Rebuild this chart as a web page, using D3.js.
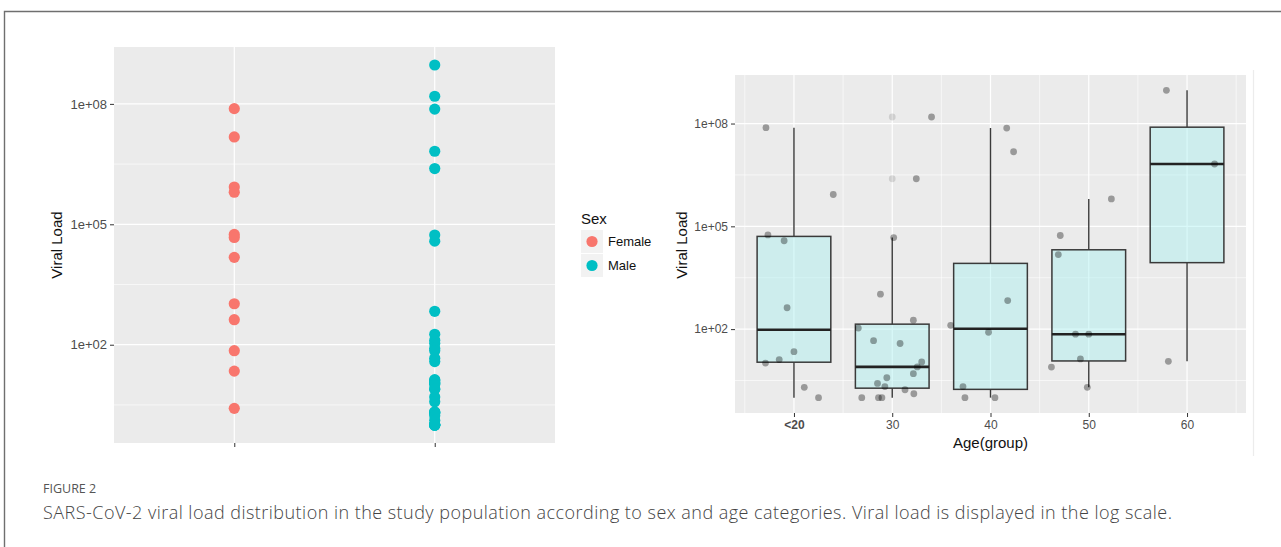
<!DOCTYPE html>
<html>
<head>
<meta charset="utf-8">
<script src="https://cdn.jsdelivr.net/npm/d3@7"></script>
<style>
  body { margin: 0; background: #fff; }
  svg text { font-family: "Liberation Sans", Arial, sans-serif; }
  .cap { font-family: "Open Sans", Lato, sans-serif; }
</style>
</head>
<body>
<svg id="fig" width="1281" height="547"></svg>
<script>
// viral load, by sex
var sexes = ["Female", "Male"];
var femaleLoad = [7.6e7, 1.5e7, 8.5e5, 6.3e5, 5.6e4, 4.7e4, 1.5e4, 1050, 420, 71, 22, 2.6];
var maleLoad = [9.3e8, 1.55e8, 7.4e7, 6.6e6, 2.45e6, 5.4e4, 3.8e4, 680, 182, 129, 107, 81, 71, 46, 38,
  13.5, 12.9, 11.5, 11, 10.2, 7.9, 7.8, 5, 3.8, 2.1, 2.1, 2, 2, 1.7, 1.3, 1, 1, 1, 1, 1, 1];

// right panel, by age group (jitter = offset of each point in category widths)
var ageGroups = ["<20", "30", "40", "50", "60"];
var loadU20 = [7.6e7, 8.5e5, 5.6e4, 3.8e4, 420, 22, 12.9, 10.2, 2, 1];
var jitterU20 = [-0.285, 0.40, -0.265, -0.10, -0.07, 0.0, -0.15, -0.29, 0.105, 0.25];
var load30 = [1.55e8, 2.45e6, 4.7e4, 1050, 182, 107, 46, 38, 11, 7.9, 5, 3.8, 2.6, 2.1, 1.7, 1.3, 1, 1, 1];
var jitter30 = [0.40, 0.245, 0.015, -0.12, 0.215, -0.345, -0.19, 0.08, 0.30, 0.255, 0.215, -0.055, -0.15, -0.075, 0.13, 0.22, -0.31, -0.14, -0.105];
var load40 = [7.4e7, 1.5e7, 680, 129, 81, 2.1, 1, 1];
var jitter40 = [0.165, 0.235, 0.175, -0.405, -0.02, -0.28, -0.26, 0.045];
var load50 = [6.3e5, 5.4e4, 1.5e4, 71, 71, 13.5, 7.8, 2];
var jitter50 = [0.23, -0.29, -0.31, -0.135, 0, -0.085, -0.38, -0.015];
var load60 = [9.3e8, 6.6e6, 11.5];
var jitter60 = [-0.21, 0.28, -0.19];

var yTicks = [1e2, 1e5, 1e8];
var sexColors = ["#F8766D", "#00BFC4"];

var svg = d3.select("#fig");
var ageLoads = [loadU20, load30, load40, load50, load60];
var ageJitter = [jitterU20, jitter30, jitter40, jitter50, jitter60];

// log domain with ggplot's 5% expansion
var allLog = femaleLoad.concat(maleLoad).map(function (v) { return Math.log10(v); });
var lo = d3.min(allLog), hi = d3.max(allLog), pad = (hi - lo) * 0.05;
var yDomain = [Math.pow(10, lo - pad), Math.pow(10, hi + pad)];
var minorTicks = yTicks.map(function (t) { return t / Math.pow(10, 1.5); })
  .concat([yTicks[yTicks.length - 1] * Math.pow(10, 1.5)])
  .filter(function (t) { return t >= yDomain[0] && t <= yDomain[1]; });

function fmt(d) {
  var e = Math.round(Math.log10(d));
  return "1e+" + (e < 10 ? "0" + e : e);
}

// frame around the figure
svg.append("path").attr("d", "M4.5,547V11.5H1281").attr("fill", "none")
  .attr("stroke", "#6f6f6f").attr("stroke-width", 1.4);

function drawPanel(g, x, y, minorX, labelSize) {
  var xr = x.range(), yr = y.range();
  g.append("rect").attr("x", xr[0]).attr("y", yr[1])
    .attr("width", xr[1] - xr[0]).attr("height", yr[0] - yr[1]).attr("fill", "#ebebeb");
  g.selectAll(".hmin").data(minorTicks).enter().append("line")
    .attr("x1", xr[0]).attr("x2", xr[1]).attr("y1", y).attr("y2", y)
    .attr("stroke", "#fff").attr("stroke-width", 0.6);
  g.selectAll(".vmin").data(minorX).enter().append("line")
    .attr("x1", function (d) { return d; }).attr("x2", function (d) { return d; })
    .attr("y1", yr[1]).attr("y2", yr[0])
    .attr("stroke", "#fff").attr("stroke-width", 0.6);
  g.selectAll(".hmaj").data(yTicks).enter().append("line")
    .attr("x1", xr[0]).attr("x2", xr[1]).attr("y1", y).attr("y2", y)
    .attr("stroke", "#fff").attr("stroke-width", 1.2);
  g.selectAll(".vmaj").data(x.domain()).enter().append("line")
    .attr("x1", x).attr("x2", x).attr("y1", yr[1]).attr("y2", yr[0])
    .attr("stroke", "#fff").attr("stroke-width", 1.2);

  var ya = g.append("g").attr("transform", "translate(" + xr[0] + ",0)")
    .call(d3.axisLeft(y).tickValues(yTicks).tickFormat(fmt).tickSize(4).tickPadding(3));
  ya.select(".domain").remove();
  ya.selectAll("line").attr("stroke", "#333");
  ya.selectAll("text").attr("fill", "#4d4d4d").style("font-size", labelSize + "px");
}

// ---------- left panel: viral load by sex ----------
var xL = d3.scalePoint().domain(sexes).range([114, 555]).padding(0.6);
var yL = d3.scaleLog().domain(yDomain).range([443, 47]);
var gL = svg.append("g");
drawPanel(gL, xL, yL, [], 13);

var xaL = gL.append("g").attr("transform", "translate(0,443)")
  .call(d3.axisBottom(xL).tickFormat("").tickSize(4));
xaL.select(".domain").remove();
xaL.selectAll("line").attr("stroke", "#333");

[femaleLoad, maleLoad].forEach(function (arr, i) {
  gL.selectAll(".pt" + i).data(arr).enter().append("circle")
    .attr("cx", xL(sexes[i])).attr("cy", function (d) { return yL(d); })
    .attr("r", 5.6).attr("fill", sexColors[i]);
});

gL.append("text").attr("transform", "translate(57,245) rotate(-90)").attr("dy", "0.35em")
  .attr("text-anchor", "middle").style("font-size", "15px").attr("fill", "#111").text("Viral Load");

// legend
var lg = svg.append("g").attr("transform", "translate(581,0)");
lg.append("text").attr("x", 0).attr("y", 219).attr("dy", "0.35em")
  .style("font-size", "15px").attr("fill", "#111").text("Sex");
sexes.forEach(function (s, i) {
  var ky = 230 + i * 24;
  lg.append("rect").attr("x", 0).attr("y", ky).attr("width", 22).attr("height", 23).attr("fill", "#f2f2f2");
  lg.append("circle").attr("cx", 11).attr("cy", ky + 11.5).attr("r", 5.6).attr("fill", sexColors[i]);
  lg.append("text").attr("x", 27).attr("y", ky + 11.5).attr("dy", "0.35em")
    .style("font-size", "13px").attr("fill", "#111").text(s);
});

// ---------- right panel: box plot by age group ----------
var xR = d3.scalePoint().domain(ageGroups).range([735, 1246]).padding(0.6);
var yR = d3.scaleLog().domain(yDomain).range([413, 75]);
var step = xR.step();
var minorR = [];
ageGroups.forEach(function (a) { minorR.push(xR(a) - step / 2); });
minorR.push(xR(ageGroups[ageGroups.length - 1]) + step / 2);

// faint edge of the embedded figure
svg.append("line").attr("x1", 1253.5).attr("x2", 1253.5).attr("y1", 70).attr("y2", 456)
  .attr("stroke", "#ececec").attr("stroke-width", 1.2);

var gR = svg.append("g");
drawPanel(gR, xR, yR, minorR, 12);

var xaR = gR.append("g").attr("transform", "translate(0,413)")
  .call(d3.axisBottom(xR).tickSize(4).tickPadding(3));
xaR.select(".domain").remove();
xaR.selectAll("line").attr("stroke", "#333");
xaR.selectAll("text").attr("fill", "#4d4d4d").style("font-size", "12px")
  .style("font-weight", function (d) { return d === "<20" ? "bold" : "normal"; });

ageGroups.forEach(function (a, i) {
  var logs = ageLoads[i].map(function (v) { return Math.log10(v); }).sort(d3.ascending);
  var q1 = d3.quantile(logs, 0.25), med = d3.quantile(logs, 0.5), q3 = d3.quantile(logs, 0.75);
  var iqr = q3 - q1;
  var inside = logs.filter(function (v) { return v >= q1 - 1.5 * iqr && v <= q3 + 1.5 * iqr; });
  var outl = logs.filter(function (v) { return v < q1 - 1.5 * iqr || v > q3 + 1.5 * iqr; });
  var cx = xR(a), bw = step * 0.75;
  var Y = function (l) { return yR(Math.pow(10, l)); };

  gR.append("line").attr("x1", cx).attr("x2", cx).attr("y1", Y(q3)).attr("y2", Y(d3.max(inside)))
    .attr("stroke", "#3a3a3a").attr("stroke-width", 1.4);
  gR.append("line").attr("x1", cx).attr("x2", cx).attr("y1", Y(q1)).attr("y2", Y(d3.min(inside)))
    .attr("stroke", "#3a3a3a").attr("stroke-width", 1.4);
  gR.append("rect").attr("x", cx - bw / 2).attr("y", Y(q3)).attr("width", bw).attr("height", Y(q1) - Y(q3))
    .attr("fill", "rgb(160,240,240)").attr("fill-opacity", 0.4)
    .attr("stroke", "#3a3a3a").attr("stroke-width", 1.5);
  gR.append("line").attr("x1", cx - bw / 2).attr("x2", cx + bw / 2).attr("y1", Y(med)).attr("y2", Y(med))
    .attr("stroke", "#222").attr("stroke-width", 2.6);
  gR.selectAll(".out" + i).data(outl).enter().append("circle")
    .attr("cx", cx).attr("cy", Y).attr("r", 3.4).attr("fill", "#000").attr("fill-opacity", 0.12);
});

ageGroups.forEach(function (a, i) {
  gR.selectAll(".jit" + i).data(ageLoads[i]).enter().append("circle")
    .attr("cx", function (d, k) { return xR(a) + ageJitter[i][k] * step; })
    .attr("cy", function (d) { return yR(d); })
    .attr("r", 3.4).attr("fill", "#000").attr("fill-opacity", 0.35);
});

gR.append("text").attr("transform", "translate(682,245) rotate(-90)").attr("dy", "0.35em")
  .attr("text-anchor", "middle").style("font-size", "15px").attr("fill", "#111").text("Viral Load");
gR.append("text").attr("x", (735 + 1246) / 2).attr("y", 443).attr("dy", "0.35em")
  .attr("text-anchor", "middle").style("font-size", "15px").attr("fill", "#111").text("Age(group)");

// caption
svg.append("text").attr("class", "cap").attr("x", 43).attr("y", 489).attr("dy", "0.35em")
  .style("font-size", "12.5px").attr("fill", "#555").text("FIGURE 2");
var cap = svg.append("text").attr("class", "cap").attr("x", 43).attr("y", 513).attr("dy", "0.35em")
  .style("font-size", "18px").style("font-weight", 300).attr("fill", "#444")
  .text("SARS-CoV-2 viral load distribution in the study population according to sex and age categories. Viral load is displayed in the log scale.");
// stretch the caption to the width it has in the figure
var capW = cap.node().getComputedTextLength();
var capN = cap.text().length;
cap.style("letter-spacing", ((1129 - capW) / (capN - 1)) + "px");
</script>
</body>
</html>
